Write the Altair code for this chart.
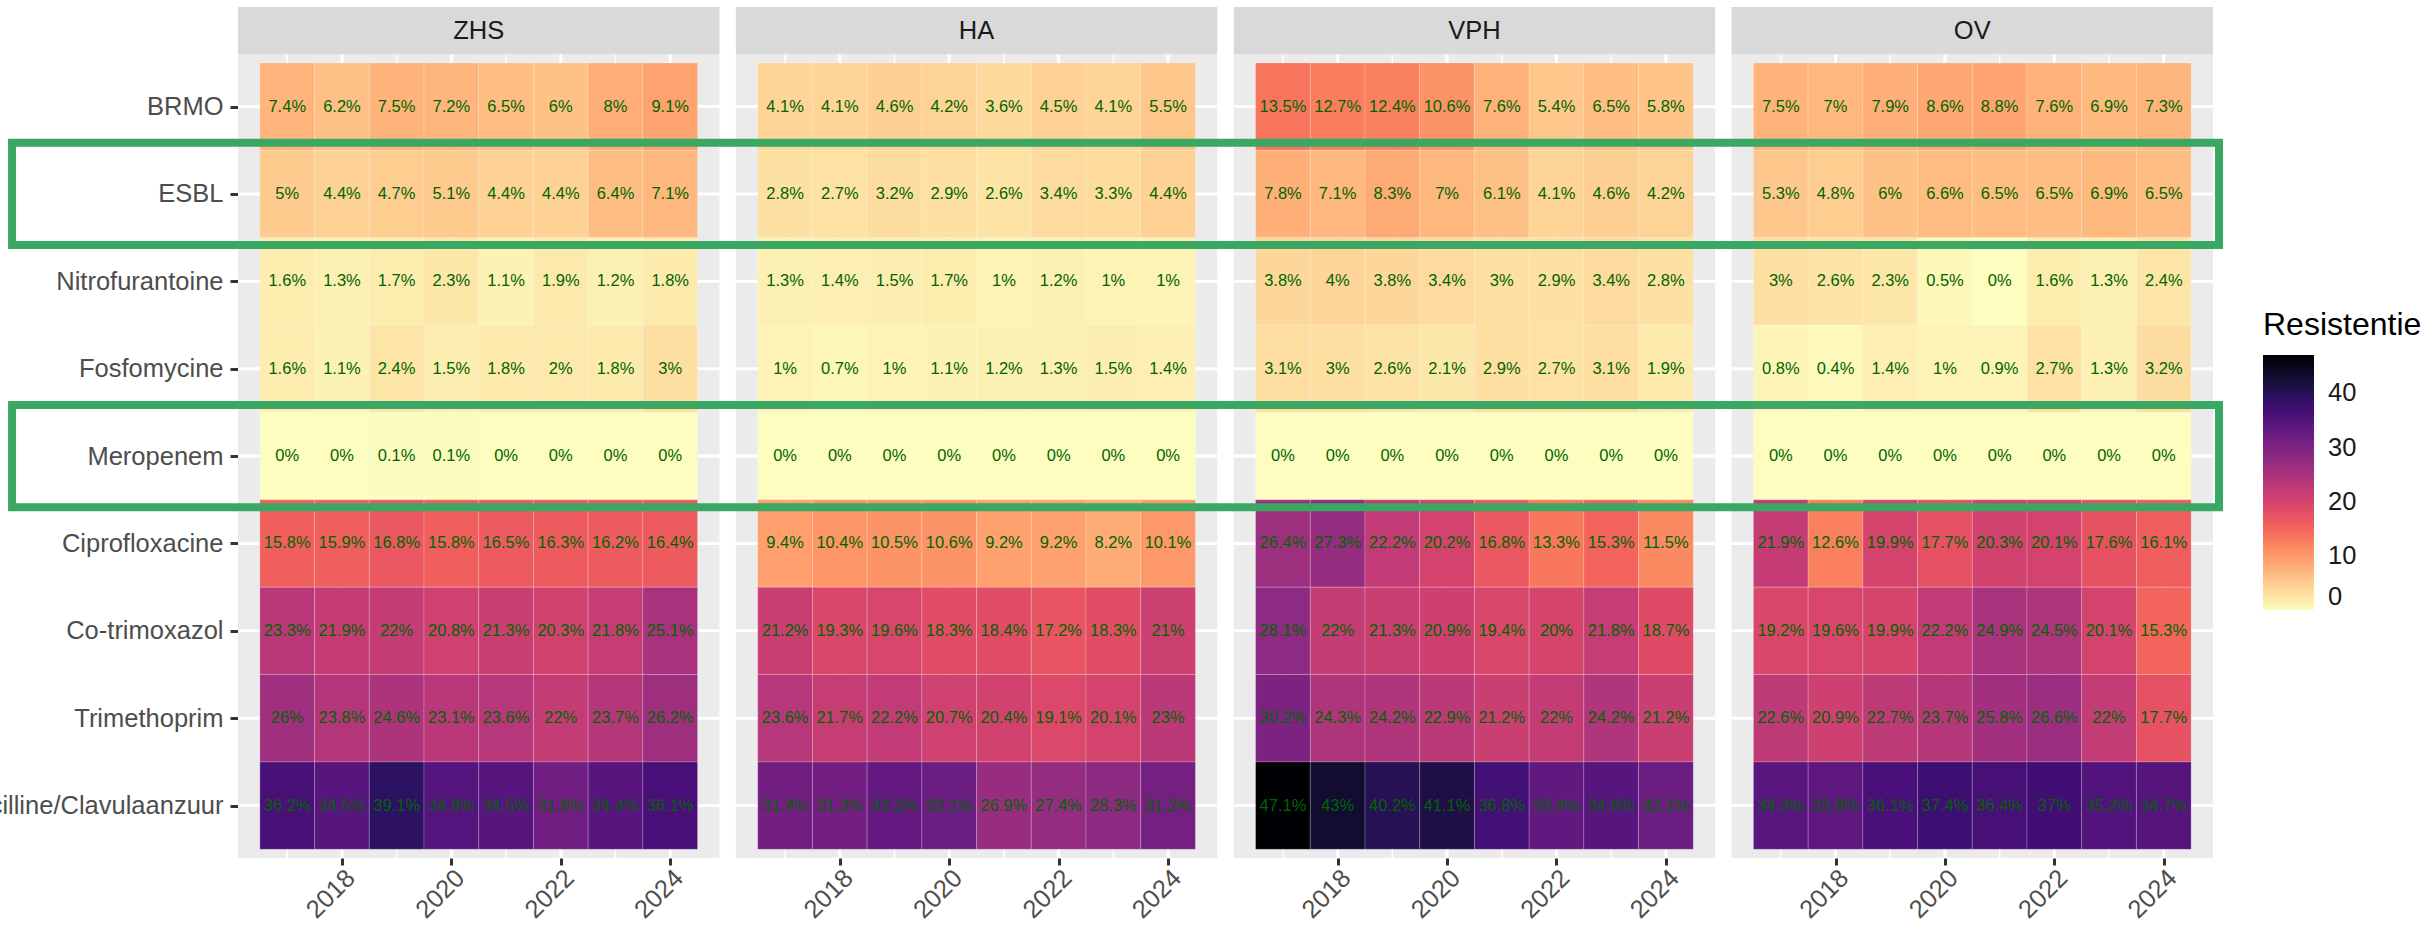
import altair as alt
import pandas as pd

# ---- data -----------------------------------------------------------------
YEARS = [2017, 2018, 2019, 2020, 2021, 2022, 2023, 2024]
ROWS = ["BRMO", "ESBL", "Nitrofurantoine", "Fosfomycine", "Meropenem",
        "Ciprofloxacine", "Co-trimoxazol", "Trimethoprim",
        "Amoxicilline/Clavulaanzuur"]
SITES = ["ZHS", "HA", "VPH", "OV"]
HIGHLIGHT = ["ESBL", "Meropenem"]
X_TICKS = [2018, 2020, 2022, 2024]
LEGEND_TICKS = [0, 10, 20, 30, 40]

# resistance (%) per row, one value per year
ZHS = [
    [7.4, 6.2, 7.5, 7.2, 6.5, 6, 8, 9.1],
    [5, 4.4, 4.7, 5.1, 4.4, 4.4, 6.4, 7.1],
    [1.6, 1.3, 1.7, 2.3, 1.1, 1.9, 1.2, 1.8],
    [1.6, 1.1, 2.4, 1.5, 1.8, 2, 1.8, 3],
    [0, 0, 0.1, 0.1, 0, 0, 0, 0],
    [15.8, 15.9, 16.8, 15.8, 16.5, 16.3, 16.2, 16.4],
    [23.3, 21.9, 22, 20.8, 21.3, 20.3, 21.8, 25.1],
    [26, 23.8, 24.6, 23.1, 23.6, 22, 23.7, 26.2],
    [36.2, 34.5, 39.1, 34.9, 34.5, 31.6, 34.4, 36.1],
]
HA = [
    [4.1, 4.1, 4.6, 4.2, 3.6, 4.5, 4.1, 5.5],
    [2.8, 2.7, 3.2, 2.9, 2.6, 3.4, 3.3, 4.4],
    [1.3, 1.4, 1.5, 1.7, 1, 1.2, 1, 1],
    [1, 0.7, 1, 1.1, 1.2, 1.3, 1.5, 1.4],
    [0, 0, 0, 0, 0, 0, 0, 0],
    [9.4, 10.4, 10.5, 10.6, 9.2, 9.2, 8.2, 10.1],
    [21.2, 19.3, 19.6, 18.3, 18.4, 17.2, 18.3, 21],
    [23.6, 21.7, 22.2, 20.7, 20.4, 19.1, 20.1, 23],
    [31.4, 31.3, 33.2, 32.1, 26.9, 27.4, 28.3, 31.2],
]
VPH = [
    [13.5, 12.7, 12.4, 10.6, 7.6, 5.4, 6.5, 5.8],
    [7.8, 7.1, 8.3, 7, 6.1, 4.1, 4.6, 4.2],
    [3.8, 4, 3.8, 3.4, 3, 2.9, 3.4, 2.8],
    [3.1, 3, 2.6, 2.1, 2.9, 2.7, 3.1, 1.9],
    [0, 0, 0, 0, 0, 0, 0, 0],
    [26.4, 27.3, 22.2, 20.2, 16.8, 13.3, 15.3, 11.5],
    [28.1, 22, 21.3, 20.9, 19.4, 20, 21.8, 18.7],
    [30.2, 24.3, 24.2, 22.9, 21.2, 22, 24.2, 21.2],
    [47.1, 43, 40.2, 41.1, 36.8, 33.4, 34.6, 32.1],
]
OV = [
    [7.5, 7, 7.9, 8.6, 8.8, 7.6, 6.9, 7.3],
    [5.3, 4.8, 6, 6.6, 6.5, 6.5, 6.9, 6.5],
    [3, 2.6, 2.3, 0.5, 0, 1.6, 1.3, 2.4],
    [0.8, 0.4, 1.4, 1, 0.9, 2.7, 1.3, 3.2],
    [0, 0, 0, 0, 0, 0, 0, 0],
    [21.9, 12.6, 19.9, 17.7, 20.3, 20.1, 17.6, 16.1],
    [19.2, 19.6, 19.9, 22.2, 24.9, 24.5, 20.1, 15.3],
    [22.6, 20.9, 22.7, 23.7, 25.8, 26.6, 22, 17.7],
    [34.3, 33.9, 36.1, 37.4, 36.4, 37, 35.2, 34.7],
]
VALUES = {"ZHS": ZHS, "HA": HA, "VPH": VPH, "OV": OV}

# ---- layout (in data units: 1 x-unit = 1 year, 1 y-unit = 1 row) --------
FONT = "Liberation Sans"
TEXT_SIZE = 25.5                                  # axis / strip / legend text
X0 = YEARS[0] - 0.5 - 0.05 * len(YEARS)          # left edge of a panel
PANEL_W = len(YEARS) * 1.1                        # panel width incl. expansion
GAP = 0.3                                         # space between panels
PITCH = PANEL_W + GAP
Y_EXP = 0.6
STRIP_H = 0.54
N_ROWS = len(ROWS)
X_DOMAIN = [0, PITCH * (len(SITES) - 1) + PANEL_W]
Y_DOMAIN = [-Y_EXP - STRIP_H, N_ROWS - 1 + Y_EXP]
BOX_LEFT, BOX_RIGHT, BOX_HALF = -4.13, X_DOMAIN[1] + 0.11, 0.585
GREEN = "#3AA862"

PX_W, PX_H = 1975, 851

tiles, panels, hgrid, vgrid = [], [], [], []
for si, site in enumerate(SITES):
    off = si * PITCH
    panels.append({"site": site, "xl": off, "xr": off + PANEL_W,
                   "xm": off + PANEL_W / 2, "yt": -Y_EXP,
                   "yb": N_ROWS - 1 + Y_EXP, "st": -Y_EXP - STRIP_H,
                   "sm": -Y_EXP - STRIP_H / 2})
    for ri, row in enumerate(ROWS):
        hgrid.append({"xl": off, "xr": off + PANEL_W, "r": ri})
        for yi, yr in enumerate(YEARS):
            v = VALUES[site][ri][yi]
            x = off + (yr - X0)
            tiles.append({"site": site, "row": row, "year": yr, "value": v,
                          "label": f"{v:g}%", "x": x, "xa": x - 0.5,
                          "xb": x + 0.5, "r": ri, "ra": ri - 0.5,
                          "rb": ri + 0.5})
    for yr in YEARS:
        vgrid.append({"x": off + (yr - X0), "yt": -Y_EXP,
                      "yb": N_ROWS - 1 + Y_EXP,
                      "w": 3 if yr in X_TICKS else 1.5})

tiles = pd.DataFrame(tiles)
panels = pd.DataFrame(panels)
hgrid = pd.DataFrame(hgrid)
vgrid = pd.DataFrame(vgrid)
boxes = pd.DataFrame([{"row": r, "ya": ROWS.index(r) - BOX_HALF,
                       "yb": ROWS.index(r) + BOX_HALF,
                       "xa": BOX_LEFT, "xb": BOX_RIGHT} for r in HIGHLIGHT])

x_tick_values = [si * PITCH + (yr - X0) for si in range(len(SITES))
                 for yr in X_TICKS]
xs = alt.Scale(domain=X_DOMAIN, nice=False, zero=False)
ys = alt.Scale(domain=Y_DOMAIN, nice=False, zero=False, reverse=True)

row_list = "[" + ",".join(f"'{r}'" for r in ROWS) + "]"
x_axis = alt.Axis(values=x_tick_values, title=None, domain=False, grid=False,
                  labelExpr=f"format(round(datum.value - floor(datum.value / {PITCH}) * {PITCH} + {X0}), 'd')",
                  labelAngle=315, labelAlign="right", labelBaseline="top",
                  labelFontSize=TEXT_SIZE, labelColor="#4D4D4D",
                  labelFont=FONT, tickColor="#333333", tickWidth=3,
                  tickSize=7, labelPadding=0, labelOverlap=False,
                  labelLimit=400)
y_axis = alt.Axis(values=list(range(N_ROWS)), title=None, domain=False,
                  grid=False, labelExpr=f"{row_list}[datum.value]",
                  labelFontSize=TEXT_SIZE, labelColor="#4D4D4D",
                  labelFont=FONT, tickColor="#333333", tickWidth=3,
                  tickSize=8, labelPadding=7, labelOverlap=False,
                  labelLimit=600)


def X(field):
    return alt.X(field, scale=xs, axis=x_axis)


def Y(field):
    return alt.Y(field, scale=ys, axis=y_axis)


bg = alt.Chart(panels).mark_rect(fill="#EBEBEB").encode(
    x=X("xl:Q"), x2="xr:Q", y=Y("yt:Q"), y2="yb:Q")

grid_h = alt.Chart(hgrid).mark_rule(color="white", strokeWidth=3).encode(
    x=X("xl:Q"), x2="xr:Q", y=Y("r:Q"))

grid_v = alt.Chart(vgrid).mark_rule(color="white").encode(
    x=X("x:Q"), y=Y("yt:Q"), y2="yb:Q",
    strokeWidth=alt.StrokeWidth("w:Q", scale=None))

heat = alt.Chart(tiles).mark_rect(stroke="white", strokeWidth=1,
                                  strokeOpacity=0.2).encode(
    x=X("xa:Q"), x2="xb:Q", y=Y("ra:Q"), y2="rb:Q",
    color=alt.Color("value:Q",
                    scale=alt.Scale(scheme="magma", reverse=True,
                                    domain=[0, float(tiles["value"].max())]),
                    legend=alt.Legend(title="Resistentie", orient="none",
                                      legendX=2025, legendY=303,
                                      direction="vertical",
                                      gradientLength=255,
                                      gradientThickness=51,
                                      gradientStrokeWidth=0,
                                      values=LEGEND_TICKS,
                                      titleFontSize=32,
                                      titleFontWeight="normal",
                                      titleColor="black", titleFont=FONT,
                                      titlePadding=13,
                                      labelFontSize=TEXT_SIZE,
                                      labelColor="#1A1A1A",
                                      labelFont=FONT, labelOffset=14)))

labels = alt.Chart(tiles).mark_text(fontSize=16.5, color="#006400",
                                    font=FONT).encode(
    x=X("x:Q"), y=Y("r:Q"), text="label:N")

strips = alt.Chart(panels).mark_rect(fill="#D9D9D9").encode(
    x=X("xl:Q"), x2="xr:Q", y=Y("st:Q"), y2="yt:Q")

strip_text = alt.Chart(panels).mark_text(fontSize=TEXT_SIZE, color="#1A1A1A",
                                         font=FONT).encode(
    x=X("xm:Q"), y=Y("sm:Q"), text="site:N")

frames = alt.Chart(boxes).mark_rect(fillOpacity=0, stroke=GREEN,
                                    strokeWidth=8).encode(
    x=X("xa:Q"), x2="xb:Q", y=Y("ya:Q"), y2="yb:Q")

chart = alt.layer(bg, grid_h, grid_v, heat, labels, strips,
                  strip_text, frames).properties(
    width=PX_W, height=PX_H,
    autosize=alt.AutoSizeParams(type="none"),
    padding={"left": 238, "top": 7, "right": 217, "bottom": 68},
    background="white",
).configure_view(stroke=None)

chart.save("out.html", embed_options={"renderer": "svg", "actions": False})
